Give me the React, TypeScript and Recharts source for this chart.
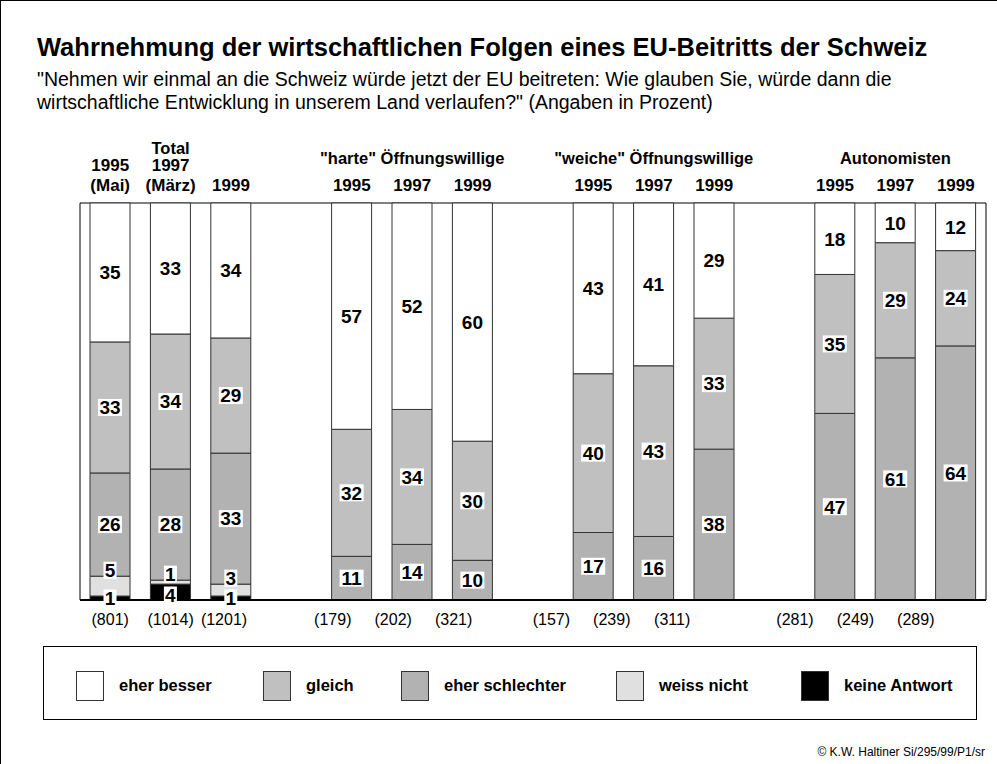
import React from 'react';
import { BarChart, Bar, XAxis, YAxis, LabelList, ReferenceArea } from 'recharts';

const categories = ['t95', 't97', 't99', 'g1', 'h95', 'h97', 'h99', 'g2', 'w95', 'w97', 'w99', 'g3', 'a95', 'a97', 'a99'];
const yearLabels = ['1995|(Mai)', '1997|(März)', '1999', '', '1995', '1997', '1999', '', '1995', '1997', '1999', '', '1995', '1997', '1999'];
const groupTitles = ['', 'Total', '', '', '', '"harte" Öffnungswillige', '', '', '', '"weiche" Öffnungswillige', '', '', '', 'Autonomisten', ''];
const sampleSizes = ['(801)', '(1014)', '(1201)', '', '(179)', '(202)', '(321)', '', '(157)', '(239)', '(311)', '', '(281)', '(249)', '(289)'];

const eherBesser = [35, 33, 34, null, 57, 52, 60, null, 43, 41, 29, null, 18, 10, 12];
const gleich = [33, 34, 29, null, 32, 34, 30, null, 40, 43, 33, null, 35, 29, 24];
const eherSchlechter = [26, 28, 33, null, 11, 14, 10, null, 17, 16, 38, null, 47, 61, 64];
const weissNicht = [5, 1, 3, null, null, null, null, null, null, null, null, null, null, null, null];
const keineAntwort = [1, 4, 1, null, null, null, null, null, null, null, null, null, null, null, null];

const FONT = '"Liberation Sans", Arial, sans-serif';
const PLOT_TOP = 203;
const PLOT_BOTTOM = 600;
const TOP_AXIS_H = 80;
const BOTTOM_AXIS_H = 30;

const COLORS = {
  besser: '#ffffff',
  gleich: '#c0c0c0',
  schlechter: '#b2b2b2',
  weiss: '#e0e0e0',
  keine: '#000000',
};

const data = categories.map((key, i) => ({
  key,
  n: sampleSizes[i],
  keine: keineAntwort[i],
  weiss: weissNicht[i],
  schlechter: eherSchlechter[i],
  gleich: gleich[i],
  besser: eherBesser[i],
}));

// the n-labels in the original sit a bit left of their bars, group by group
const groupShift = [0, -19, -42, -40];

const makeLabel = (mode: 'center' | 'above' | 'bottom') => (props: any) => {
  const { x, y, width, height, value } = props;
  if (value == null) return null;
  const cx = Number(x) + Number(width) / 2;
  let cy = Number(y) + Number(height) / 2;
  if (mode === 'above') cy = Number(y) - 6;
  if (mode === 'bottom') cy = Math.max(cy, Number(y) + Number(height) - 5);
  const text = String(value);
  const w = text.length * 11 + 2;
  const h = 17;
  return (
    <g>
      <rect x={cx - w / 2} y={cy - h / 2} width={w} height={h} fill="#fff" />
      <text x={cx} y={cy} dy="0.36em" textAnchor="middle" fontWeight="bold" fontSize={19} fontFamily={FONT} fill="#000">
        {text}
      </text>
    </g>
  );
};

const TopTick = (props: any) => {
  const { x, index } = props;
  const lines = (yearLabels[index] || '').split('|').filter(Boolean);
  const title = groupTitles[index];
  const titleY = index < 3 ? 153 : 163;
  return (
    <g fontFamily={FONT} fontWeight="bold" fill="#000">
      {title && (
        <text x={x} y={titleY} textAnchor="middle" fontSize={16.5}>
          {title}
        </text>
      )}
      {lines.map((l, k) => (
        <text key={k} x={x} y={190 - (lines.length - 1 - k) * 20} textAnchor="middle" fontSize={17}>
          {l}
        </text>
      ))}
    </g>
  );
};

const BottomTick = (props: any) => {
  const { x, y, index, payload } = props;
  const label = sampleSizes[index] ?? payload?.value;
  if (!label) return null;
  let dx = groupShift[Math.floor(index / 4)];
  if (index === 2) dx = -7;
  return (
    <text x={x + dx} y={y + 17} textAnchor="middle" fontSize={16} fontFamily={FONT} fill="#000">
      {label}
    </text>
  );
};

const legendItems = [
  { label: 'eher besser', color: COLORS.besser, left: 75, text: 118 },
  { label: 'gleich', color: COLORS.gleich, left: 262, text: 305 },
  { label: 'eher schlechter', color: COLORS.schlechter, left: 400, text: 443 },
  { label: 'weiss nicht', color: COLORS.weiss, left: 615, text: 658 },
  { label: 'keine Antwort', color: COLORS.keine, left: 800, text: 843 },
];

export default function App() {
  return (
    <div
      style={{
        position: 'absolute',
        left: 0,
        top: 0,
        width: 997,
        height: 764,
        background: '#fff',
        fontFamily: FONT,
        color: '#000',
        borderLeft: '1px solid #000',
        borderTop: '1px solid #000',
        boxSizing: 'border-box',
      }}
    >
      <BarChart
        width={996}
        height={763}
        data={data}
        barSize={40}
        margin={{ top: PLOT_TOP - 1 - TOP_AXIS_H, left: 79, right: 11, bottom: 763 - (PLOT_BOTTOM - 1) - BOTTOM_AXIS_H }}
        style={{ position: 'absolute', left: 0, top: 0 }}
      >
        <YAxis hide domain={[0, 100]} />
        <XAxis
          dataKey="key"
          interval={0}
          height={BOTTOM_AXIS_H}
          tickLine={false}
          axisLine={{ stroke: '#000', strokeWidth: 2 }}
          tick={<BottomTick />}
        />
        <XAxis
          xAxisId="top"
          orientation="top"
          dataKey="key"
          interval={0}
          height={TOP_AXIS_H}
          tickLine={false}
          axisLine={false}
          tick={<TopTick />}
        />
        <ReferenceArea y1={0} y2={100} fill="none" stroke="#000" strokeWidth={1} />
        <Bar dataKey="keine" stackId="s" fill={COLORS.keine} stroke="#333" isAnimationActive={false}>
          <LabelList dataKey="keine" content={makeLabel('bottom')} />
        </Bar>
        <Bar dataKey="weiss" stackId="s" fill={COLORS.weiss} stroke="#333" isAnimationActive={false}>
          <LabelList dataKey="weiss" content={makeLabel('above')} />
        </Bar>
        <Bar dataKey="schlechter" stackId="s" fill={COLORS.schlechter} stroke="#333" isAnimationActive={false}>
          <LabelList dataKey="schlechter" content={makeLabel('center')} />
        </Bar>
        <Bar dataKey="gleich" stackId="s" fill={COLORS.gleich} stroke="#333" isAnimationActive={false}>
          <LabelList dataKey="gleich" content={makeLabel('center')} />
        </Bar>
        <Bar dataKey="besser" stackId="s" fill={COLORS.besser} stroke="#333" isAnimationActive={false}>
          <LabelList dataKey="besser" content={makeLabel('center')} />
        </Bar>
      </BarChart>

      <div style={{ position: 'absolute', left: 36, top: 32, fontSize: 25.5, fontWeight: 'bold', whiteSpace: 'nowrap' }}>
        Wahrnehmung der wirtschaftlichen Folgen eines EU-Beitritts der Schweiz
      </div>
      <div style={{ position: 'absolute', left: 36, top: 67, fontSize: 19.5, lineHeight: '23px', whiteSpace: 'nowrap' }}>
        "Nehmen wir einmal an die Schweiz würde jetzt der EU beitreten: Wie glauben Sie, würde dann die
        <br />
        wirtschaftliche Entwicklung in unserem Land verlaufen?" (Angaben in Prozent)
      </div>

      <div
        style={{
          position: 'absolute',
          left: 42,
          top: 645,
          width: 934,
          height: 74,
          border: '1px solid #000',
          boxSizing: 'border-box',
        }}
      />
      {legendItems.map((it) => (
        <React.Fragment key={it.label}>
          <div
            style={{
              position: 'absolute',
              left: it.left,
              top: 670,
              width: 28,
              height: 30,
              background: it.color,
              border: '1px solid #333',
              boxSizing: 'border-box',
            }}
          />
          <div style={{ position: 'absolute', left: it.text, top: 675, fontSize: 16.5, fontWeight: 'bold', whiteSpace: 'nowrap' }}>
            {it.label}
          </div>
        </React.Fragment>
      ))}

      <div style={{ position: 'absolute', right: 12, top: 744, fontSize: 12, whiteSpace: 'nowrap' }}>
        © K.W. Haltiner Si/295/99/P1/sr
      </div>
    </div>
  );
}
